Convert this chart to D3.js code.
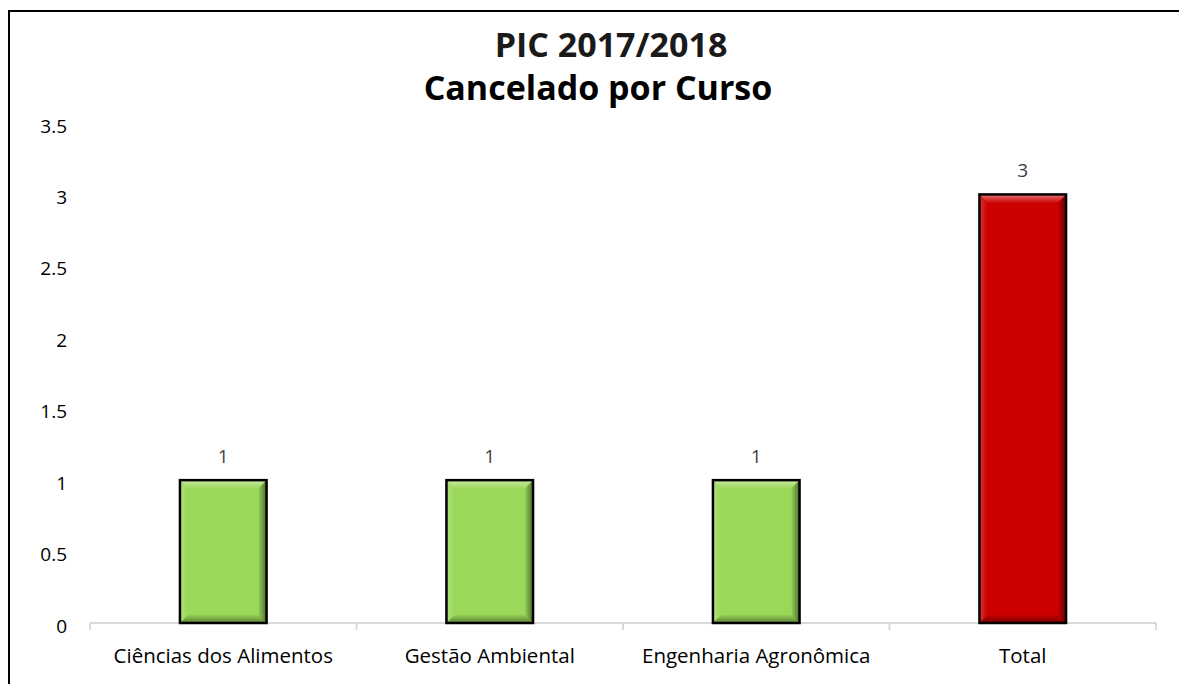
<!DOCTYPE html>
<html>
<head>
<meta charset="utf-8">
<script src="https://d3js.org/d3.v7.min.js"></script>
<style>
  body { margin: 0; background: #fff; }
  text { font-family: "Open Sans", "Liberation Sans", sans-serif; }
</style>
</head>
<body>
<div id="chart"></div>
<script>
// data
var categories = ["Ciências dos Alimentos", "Gestão Ambiental", "Engenharia Agronômica", "Total"];
var values = [1, 1, 1, 3];
var barColors = ["#9ad85a", "#9ad85a", "#9ad85a", "#cc0000"];
var yTicks = [0, 0.5, 1, 1.5, 2, 2.5, 3, 3.5];
var titleLines = ["PIC 2017/2018", "Cancelado por Curso"];

var W = 1179, H = 684;
var margin = {top: 123, right: 23, bottom: 61, left: 90};

var svg = d3.select("#chart").append("svg")
    .attr("width", W)
    .attr("height", H);

// gradients for the bevel facets
var defs = svg.append("defs");
function grad(id, x1, y1, x2, y2, color, o1, o2) {
    var g = defs.append("linearGradient").attr("id", id)
        .attr("x1", x1).attr("y1", y1).attr("x2", x2).attr("y2", y2);
    g.append("stop").attr("offset", "0%").attr("stop-color", color).attr("stop-opacity", o1);
    g.append("stop").attr("offset", "100%").attr("stop-color", color).attr("stop-opacity", o2);
}
grad("gTop", 0, 0, 0, 1, "#fff", 0.45, 0.05);
grad("gLeft", 0, 0, 1, 0, "#fff", 0.2, 0.0);
grad("gRight", 0, 0, 1, 0, "#000", 0.05, 0.5);
grad("gBottom", 0, 0, 0, 1, "#000", 0.05, 0.4);

// outer frame (runs off the right and bottom edge)
svg.append("rect")
    .attr("x", 9).attr("y", 11)
    .attr("width", W + 20).attr("height", H + 20)
    .attr("fill", "none")
    .attr("stroke", "#000")
    .attr("stroke-width", 2);

var x = d3.scaleBand()
    .domain(categories)
    .range([margin.left, W - margin.right])
    .paddingInner(0.675)
    .paddingOuter(0.3375);

var y = d3.scaleLinear()
    .domain([0, 3.5])
    .range([H - margin.bottom, margin.top]);

// title
svg.append("text")
    .attr("x", 611).attr("y", 57)
    .attr("text-anchor", "middle")
    .attr("font-size", 34).attr("font-weight", "bold")
    .attr("fill", "#1a1a1a")
    .text(titleLines[0]);
svg.append("text")
    .attr("x", 598).attr("y", 100)
    .attr("text-anchor", "middle")
    .attr("font-size", 34).attr("font-weight", "bold")
    .attr("fill", "#000")
    .text(titleLines[1]);

// y axis labels only
var yAxis = svg.append("g")
    .attr("transform", "translate(67,3)")
    .call(d3.axisLeft(y).tickValues(yTicks).tickSize(0).tickPadding(0)
        .tickFormat(function(d) { return d; }));
yAxis.select(".domain").remove();
yAxis.selectAll("text")
    .attr("font-size", 19)
    .attr("fill", "#000")
    .style("font-family", "'Open Sans', sans-serif");

// x axis line with boundary ticks
var xAxisG = svg.append("g");
xAxisG.append("line")
    .attr("x1", margin.left).attr("x2", W - margin.right)
    .attr("y1", y(0)).attr("y2", y(0))
    .attr("stroke", "#d9d9d9").attr("stroke-width", 2);
var step = x.step();
var bounds = categories.map(function(c) { return x(c) - (step - x.bandwidth()) / 2; });
bounds.push(W - margin.right);
xAxisG.selectAll("line.tick")
    .data(bounds)
    .enter().append("line")
    .attr("class", "tick")
    .attr("x1", function(d) { return d; }).attr("x2", function(d) { return d; })
    .attr("y1", y(0)).attr("y2", y(0) + 7)
    .attr("stroke", "#d9d9d9").attr("stroke-width", 2);

xAxisG.selectAll("text.cat")
    .data(categories)
    .enter().append("text")
    .attr("class", "cat")
    .attr("x", function(d) { return x(d) + x.bandwidth() / 2; })
    .attr("y", 663)
    .attr("text-anchor", "middle")
    .attr("font-size", 20.5)
    .attr("fill", "#000")
    .text(function(d) { return d; });

// bars with a bevel look
var bevel = 8;
var bars = svg.selectAll("g.bar")
    .data(categories)
    .enter().append("g")
    .attr("class", "bar");

bars.each(function(c, i) {
    var g = d3.select(this);
    var x0 = x(c), x1 = x(c) + x.bandwidth();
    var y0 = y(values[i]), y1 = y(0);
    g.append("rect")
        .attr("x", x0).attr("y", y0)
        .attr("width", x1 - x0).attr("height", y1 - y0)
        .attr("fill", barColors[i]);
    // top facet (light)
    g.append("polygon")
        .attr("points", [[x0, y0], [x1, y0], [x1 - bevel, y0 + bevel], [x0 + bevel, y0 + bevel]].join(" "))
        .attr("fill", "url(#gTop)");
    // left facet
    g.append("polygon")
        .attr("points", [[x0, y0], [x0 + bevel, y0 + bevel], [x0 + bevel, y1 - bevel], [x0, y1]].join(" "))
        .attr("fill", "url(#gLeft)");
    // right facet (dark)
    g.append("polygon")
        .attr("points", [[x1, y0], [x1, y1], [x1 - bevel, y1 - bevel], [x1 - bevel, y0 + bevel]].join(" "))
        .attr("fill", "url(#gRight)");
    // bottom facet (dark)
    g.append("polygon")
        .attr("points", [[x0, y1], [x1, y1], [x1 - bevel, y1 - bevel], [x0 + bevel, y1 - bevel]].join(" "))
        .attr("fill", "url(#gBottom)");
    g.append("rect")
        .attr("x", x0).attr("y", y0)
        .attr("width", x1 - x0).attr("height", y1 - y0)
        .attr("fill", "none")
        .attr("stroke", "#000").attr("stroke-width", 2.5);
    // value label
    g.append("text")
        .attr("x", (x0 + x1) / 2)
        .attr("y", y0 - 17)
        .attr("text-anchor", "middle")
        .attr("font-size", 19)
        .attr("fill", "#404040")
        .text(values[i]);
});
</script>
</body>
</html>
